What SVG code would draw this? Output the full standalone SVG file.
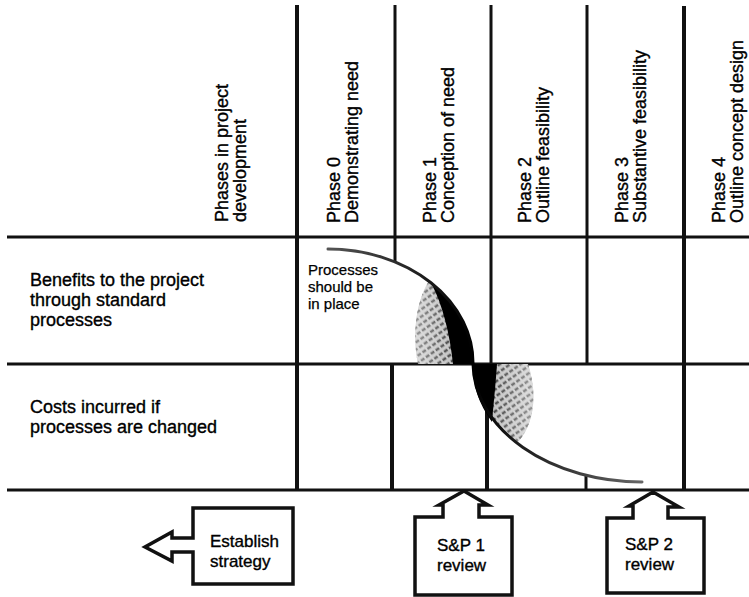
<svg xmlns="http://www.w3.org/2000/svg" width="749" height="597" viewBox="0 0 749 597">
  <style>
    .rule { stroke: #111; stroke-width: 3; fill: none; stroke-linecap: butt; }
    .rule-bold { stroke: #111; stroke-width: 4; fill: none; }
    .lbl { font-family: "Liberation Sans", Arial, sans-serif; font-size: 18px; fill: #000; stroke: #000; stroke-width: 0.35; }
    .boxlbl { font-family: "Liberation Sans", Arial, sans-serif; font-size: 17px; fill: #000; stroke: #000; stroke-width: 0.35; }
    .note { font-family: "Liberation Sans", Arial, sans-serif; font-size: 15px; fill: #000; stroke: #000; stroke-width: 0.25; }
    .box { fill: #fff; stroke: #111; stroke-width: 3.5; stroke-linejoin: miter; }
  </style>
  <defs>
    <pattern id="hatch" width="6" height="6" patternUnits="userSpaceOnUse" patternTransform="rotate(-35)">
      <rect width="6" height="6" fill="#b8b8b8"/>
      <line x1="0" y1="3" x2="6" y2="3" stroke="#222" stroke-width="2.6" stroke-dasharray="4 2"/>
    </pattern>
    <linearGradient id="fadeUp" gradientUnits="userSpaceOnUse" x1="418" y1="0" x2="473" y2="0">
      <stop offset="0" stop-color="#fff" stop-opacity="0.5"/>
      <stop offset="1" stop-color="#fff" stop-opacity="0"/>
    </linearGradient>
    <linearGradient id="fadeDown" gradientUnits="userSpaceOnUse" x1="528" y1="0" x2="473" y2="0">
      <stop offset="0" stop-color="#fff" stop-opacity="0.5"/>
      <stop offset="1" stop-color="#fff" stop-opacity="0"/>
    </linearGradient>
    <linearGradient id="strokeUp" gradientUnits="userSpaceOnUse" x1="328" y1="0" x2="473" y2="0">
      <stop offset="0" stop-color="#555"/>
      <stop offset="1" stop-color="#000"/>
    </linearGradient>
    <linearGradient id="strokeDown" gradientUnits="userSpaceOnUse" x1="473" y1="0" x2="642" y2="0">
      <stop offset="0" stop-color="#000"/>
      <stop offset="1" stop-color="#666"/>
    </linearGradient>
  </defs>

  <rect width="749" height="597" fill="#fff"/>

  <!-- table rules -->
  <g id="grid">
    <line class="rule" x1="7" y1="237" x2="749" y2="237"/>
    <line class="rule" x1="7" y1="364" x2="749" y2="364"/>
    <line class="rule" x1="7" y1="490" x2="749" y2="490"/>
    <line class="rule-bold" x1="297" y1="5" x2="297" y2="490"/>
    <line class="rule" x1="395" y1="5" x2="395" y2="262"/>
    <line class="rule" x1="491" y1="5" x2="491" y2="364"/>
    <line class="rule" x1="587" y1="5" x2="587" y2="364"/>
    <line class="rule-bold" x1="684" y1="6" x2="684" y2="490"/>
    <line class="rule-bold" x1="392" y1="364" x2="392" y2="490"/>
    <line class="rule-bold" x1="487" y1="364" x2="487" y2="490"/>
    <line class="rule" x1="586" y1="475" x2="586" y2="490"/>
  </g>

  <!-- column headings -->
  <g id="headings" class="lbl">
    <text transform="translate(228,222) rotate(-90)">Phases in project<tspan x="0" dy="18">development</tspan></text>
    <text transform="translate(340,223) rotate(-90)">Phase 0<tspan x="0" dy="18">Demonstrating need</tspan></text>
    <text transform="translate(436,223) rotate(-90)">Phase 1<tspan x="0" dy="18">Conception of need</tspan></text>
    <text transform="translate(531,223) rotate(-90)">Phase 2<tspan x="0" dy="18">Outline feasibility</tspan></text>
    <text transform="translate(628,223) rotate(-90)">Phase 3<tspan x="0" dy="18">Substantive feasibility</tspan></text>
    <text transform="translate(725,223) rotate(-90)">Phase 4<tspan x="0" dy="18">Outline concept design</tspan></text>
  </g>

  <!-- row headings -->
  <g id="rows" class="lbl">
    <text x="30" y="286">Benefits to the project<tspan x="30" dy="20">through standard</tspan><tspan x="30" dy="20">processes</tspan></text>
    <text x="30" y="413">Costs incurred if<tspan x="30" dy="20">processes are changed</tspan></text>
  </g>

  <!-- benefit / cost curve with shaded lobes -->
  <g id="curve">
    <path d="M429,281 A145,114 0 0 1 473,364 L418,364 C413,340 414,305 429,281 Z" fill="url(#hatch)"/>
    <path d="M429,281 A145,114 0 0 1 473,364 L418,364 C413,340 414,305 429,281 Z" fill="url(#fadeUp)"/>
    <path d="M431,283 A145,114 0 0 1 473,364 L453,364 C450,335 443,305 431,283 Z" fill="#000"/>
    <path d="M473,364 A169,119 0 0 0 517,443 C534,425 538,395 528,364 Z" fill="url(#hatch)"/>
    <path d="M473,364 A169,119 0 0 0 517,443 C534,425 538,395 528,364 Z" fill="url(#fadeDown)"/>
    <path d="M473,364 A169,119 0 0 0 492,422 C494,400 496,380 497,364 Z" fill="#000"/>
    <path d="M328,249 A145,114 0 0 1 473,364" fill="none" stroke="url(#strokeUp)" stroke-width="3" stroke-linecap="round"/>
    <path d="M473,364 A169,119 0 0 0 642,482" fill="none" stroke="url(#strokeDown)" stroke-width="3" stroke-linecap="round"/>
  </g>

  <g id="note" class="note">
    <text x="308" y="275">Processes<tspan x="308" dy="17">should be</tspan><tspan x="308" dy="17">in place</tspan></text>
  </g>

  <!-- milestone boxes with block arrows -->
  <g id="establish-strategy">
    <path class="box" d="M293,508 L293,584 L193,584 L193,552 L172,552 L172,561 L145,547 L172,532 L172,538 L193,538 L193,508 Z"/>
    <text class="boxlbl" x="210" y="547">Establish<tspan x="210" dy="20">strategy</tspan></text>
  </g>
  <g id="sp1-review">
    <path class="box" d="M415,517 L443,517 L443,505 L439,505 L464,491 L488,505 L479,505 L479,517 L512,517 L512,595 L415,595 Z"/>
    <text class="boxlbl" x="437" y="551">S&amp;P 1<tspan x="437" dy="20">review</tspan></text>
  </g>
  <g id="sp2-review">
    <path class="box" d="M607,518 L633,518 L633,506 L629,506 L653,492 L679,507 L668,507 L668,518 L704,518 L704,593 L607,593 Z"/>
    <text class="boxlbl" x="625" y="550">S&amp;P 2<tspan x="625" dy="20">review</tspan></text>
  </g>
</svg>
